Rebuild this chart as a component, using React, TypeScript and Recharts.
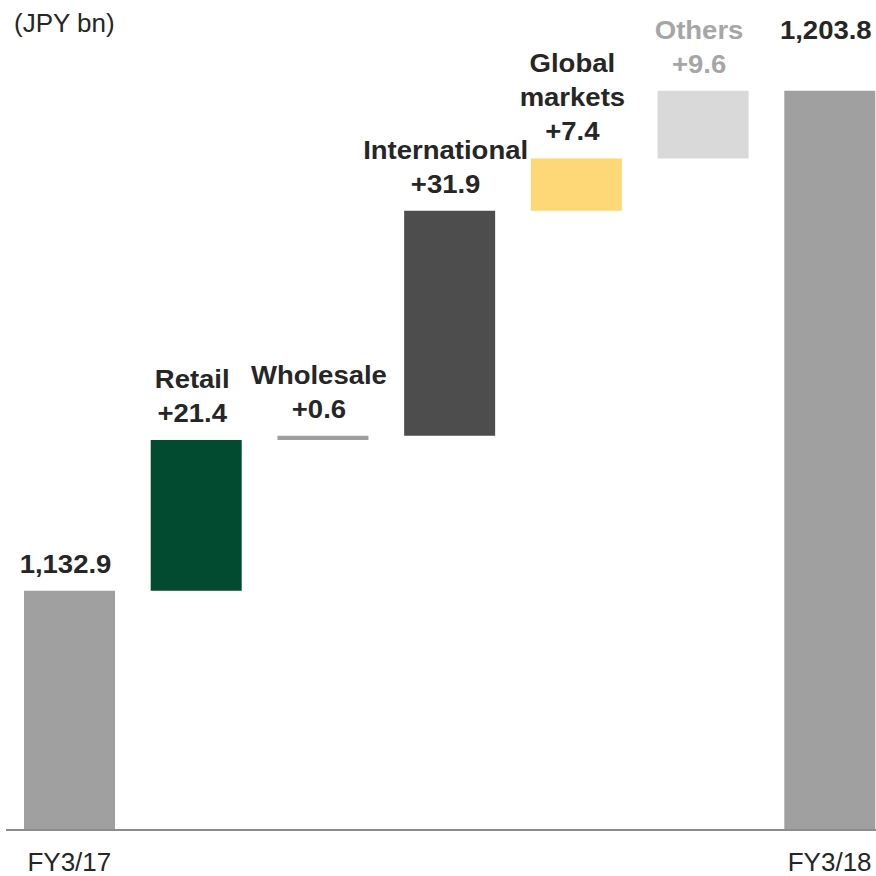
import React from 'react';
import { BarChart, Bar, XAxis, YAxis, Cell, LabelList } from 'recharts';

// --- data ---
const categories = ['FY3/17', 'Retail', 'Wholesale', 'International', 'Global markets', 'Others', 'FY3/18'];
const startTotal = 1132.9;
const changes = [21.4, 0.6, 31.9, 7.4, 9.6];
const endTotal = 1203.8;
const unitLabel = '(JPY bn)';

const barColors = ['#a0a0a0', '#024a30', '#a0a0a0', '#4d4d4d', '#fed776', '#d9d9d9', '#a0a0a0'];
const labelColors = ['#262626', '#262626', '#262626', '#262626', '#262626', '#a6a6a6', '#262626'];

const FONT = '"Liberation Sans", Arial, Helvetica, sans-serif';
const LINE = 34;

const fmt = (v: number) =>
  v.toLocaleString('en-US', { minimumFractionDigits: 1, maximumFractionDigits: 1 });

// totals stand on zero (clipped by the broken axis), changes float on the running sum
let running = startTotal;
const rows = categories.map((name, i) => {
  if (i === 0) return { name, kind: 'total', range: [0, startTotal], value: startTotal };
  if (i === categories.length - 1) return { name, kind: 'total', range: [0, endTotal], value: endTotal };
  const d = changes[i - 1];
  const row = { name, kind: 'change', range: [running, running + d], value: d };
  running += d;
  return row;
});

const renderLabel = (props: any) => {
  const { x, y, width, height, index } = props;
  const row = rows[index];
  if (!row) return null;
  const cx = Number(x) + Number(width) / 2 - 4;
  const top = Math.min(Number(y), Number(y) + Number(height));
  const lines =
    row.kind === 'total' ? [fmt(row.value)] : [...row.name.split(' '), '+' + fmt(row.value)];
  // closing total label sits level with the top line of its neighbour
  const lift = index === rows.length - 1 ? LINE : 0;
  const base = top - 18 - lift;
  return (
    <g transform={`translate(${cx},0) scale(1.1,1)`}>
      <text textAnchor="middle" fontSize={25} fontWeight="bold" fill={labelColors[index]} fontFamily={FONT}>
        {lines.map((l, k) => (
          <tspan key={k} x={0} y={base - (lines.length - 1 - k) * LINE}>
            {l}
          </tspan>
        ))}
      </text>
    </g>
  );
};

const renderTick = (props: any) => {
  const { x, y, payload } = props;
  const row = rows.find((r) => r.name === payload.value);
  if (!row || row.kind !== 'total') return <g />;
  return (
    <text x={x} y={y} dy={33} textAnchor="middle" fontSize={26} fill="#262626" fontFamily={FONT}>
      {payload.value}
    </text>
  );
};

export default function App() {
  return (
    <div style={{ position: 'absolute', left: 0, top: 0, width: 876, height: 876, overflow: 'hidden', background: '#fff' }}>
      <BarChart width={893} height={876} data={rows} margin={{ top: 47, right: 0, left: 6, bottom: 0 }}>
        <XAxis
          dataKey="name"
          height={46}
          interval={0}
          tickLine={false}
          axisLine={{ stroke: '#8c8c8c', strokeWidth: 2 }}
          tick={renderTick}
        />
        <YAxis hide type="number" domain={[1099, 1210]} allowDataOverflow />
        <Bar dataKey="range" barSize={91} isAnimationActive={false}>
          {rows.map((r, i) => (
            <Cell key={r.name} fill={barColors[i]} />
          ))}
          <LabelList dataKey="range" content={renderLabel} />
        </Bar>
      </BarChart>
      <svg width={200} height={50} style={{ position: 'absolute', left: 0, top: 0 }}>
        <text x={14} y={32} fontSize={26} fill="#262626" fontFamily={FONT}>
          {unitLabel}
        </text>
      </svg>
    </div>
  );
}
